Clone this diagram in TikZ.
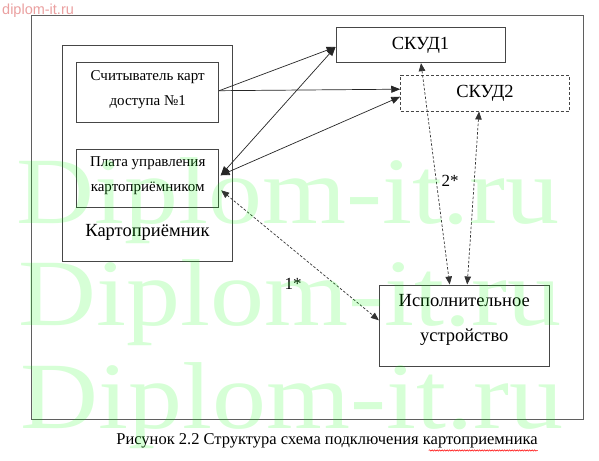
\documentclass[tikz,border=0pt]{standalone}
\usepackage{fontspec}
\setmainfont{Liberation Serif}
\newfontfamily\wmsans{Liberation Sans}
\usetikzlibrary{arrows.meta,calc,decorations.pathmorphing}
\definecolor{linegray}{RGB}{70,70,70}
\definecolor{framegray}{RGB}{95,95,95}
\definecolor{wmpink}{RGB}{235,160,160}
\begin{document}
\begin{tikzpicture}[x=1pt,y=-1pt,
  box/.style={draw=linegray, line width=0.9pt, inner sep=0pt},
  dbox/.style={box, dash pattern=on 3pt off 2pt},
  smalltxt/.style={align=center, inner sep=0pt, font=\fontsize{15}{25}\selectfont},
  bigtxt/.style={align=center, inner sep=0pt, font=\fontsize{18.5}{35}\selectfont},
  solidarrow/.style={draw=black!85, line width=0.7pt, -{Triangle[length=9pt,width=7pt]}},
  biarrow/.style={draw=black!85, line width=0.7pt, {Triangle[length=9pt,width=7pt]}-{Triangle[length=9pt,width=7pt]}},
  dasharrow/.style={draw=black!80, line width=0.7pt, dash pattern=on 2.5pt off 1.8pt,
     {Triangle[length=8pt,width=6.5pt]}-{Triangle[length=8pt,width=6.5pt]}},
  wm/.style={inner sep=0pt, anchor=base west, text=green, text opacity=0.16,
     font=\fontsize{95}{95}\selectfont}
]
\useasboundingbox (0,0) rectangle (599,460);
\fill[white] (0,0) rectangle (599,460);

% outer frame
\node[draw=framegray, line width=1pt, inner sep=0pt, minimum width=552pt, minimum height=403pt] (frame) at (307,217.5) {};

% Kartopriemnik
\node[box, minimum width=169.6pt, minimum height=215.3pt] (kart) at (147.5,153.35) {};
\node[inner sep=0pt, font=\fontsize{18.5}{20}\selectfont] (kartlbl) at (147.5,232) {Картоприёмник};

\node[box, minimum width=142pt, minimum height=60.4pt] (reader) at (147.7,92.5) {};
\node[smalltxt] (readertxt) at (147.7,90) {Считыватель карт\\доступа №1};

\node[box, minimum width=142pt, minimum height=58pt] (plata) at (147.7,178.3) {};
\node[smalltxt] (platatxt) at (147.7,176) {Плата управления\\картоприёмником};

\node[box, minimum width=169pt, minimum height=35pt, font=\fontsize{18.5}{20}\selectfont] (skud1) at (420.5,45.2) {СКУД1};
\node[dbox, minimum width=168.6pt, minimum height=35.7pt, font=\fontsize{18.5}{20}\selectfont] (skud2) at (485,93.2) {СКУД2};

\node[box, minimum width=169.7pt, minimum height=81.7pt] (isp) at (464.2,325.8) {};
\node[bigtxt] (isptxt) at (464.2,319.5) {Исполнительное\\устройство};

% solid connectors
\draw[solidarrow] ($(reader.east)+(0,-1.8)$) -- ($(skud1.west)+(0,1.8)$);
\draw[solidarrow] ($(reader.east)+(0,-1.8)$) -- ($(skud2.west)+(0,-4)$);
\draw[biarrow] ($(plata.east)+(1.5,-3)$) -- ($(skud1.west)+(0,1.8)$);
\draw[biarrow] ($(plata.east)+(1.5,-3)$) -- ($(skud2.west)+(0,3.5)$);

% dashed connectors
\draw[dasharrow] ($(plata.east)+(2,12)$) -- ($(isp.west)+(0,-5.5)$);
\draw[dasharrow] ($(skud1.south)+(0.5,0)$) -- ($(isp.north)+(-14.5,0)$);
\draw[dasharrow] ($(skud2.south)+(-6,0)$) -- ($(isp.north)+(3,0)$);

\node[inner sep=0pt, font=\fontsize{17}{20}\selectfont] (lbl2) at (450,181) {2*};
\node[inner sep=0pt, font=\fontsize{17}{20}\selectfont] (lbl1) at (293,284) {1*};

% caption
\node[inner sep=0pt, font=\fontsize{16.5}{20}\selectfont] (caption) at (327,441) {Рисунок 2.2 Структура схема подключения картоприемника};
\draw[red, line width=0.5pt, decorate, decoration={snake, amplitude=0.7pt, segment length=2.5pt}]
  ($(caption.south east)+(-109,2)$) -- ($(caption.south east)+(0,2)$);

% watermarks
\node[inner sep=0pt, anchor=base west, text=wmpink, font=\wmsans\fontsize{14.5}{16}\selectfont] (wmtop) at (2,15) {diplom-it.ru};
\node[wm] (wm1) at (16,223) {\scalebox{1.137}[1]{Diplom-it.ru}};
\node[wm] (wm2) at (18,325) {\scalebox{1.137}[1]{Diplom-it.ru}};
\node[wm] (wm3) at (20,428) {\scalebox{1.137}[1]{Diplom-it.ru}};
\end{tikzpicture}
\end{document}
